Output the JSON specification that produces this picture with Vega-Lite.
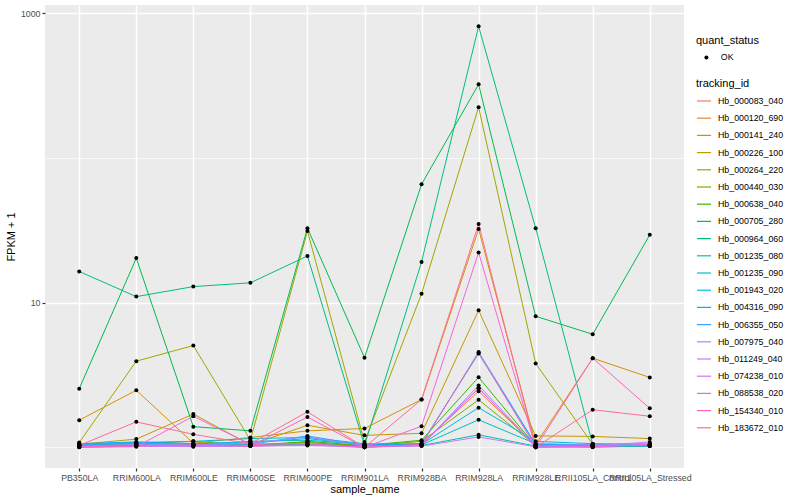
{
  "$schema": "https://vega.github.io/schema/vega-lite/v6.json",
  "width": 639,
  "height": 463,
  "autosize": {"type": "none"},
  "padding": {"left": 45, "top": 5, "right": 116, "bottom": 32},
  "background": "white",
  "datasets": {
    "expr": [
      {"tracking_id":"Hb_000083_040","sample_name":"PB350LA","fpkm":1.02,"quant_status":"OK"},
      {"tracking_id":"Hb_000083_040","sample_name":"RRIM600LA","fpkm":1.03,"quant_status":"OK"},
      {"tracking_id":"Hb_000083_040","sample_name":"RRIM600LE","fpkm":1.02,"quant_status":"OK"},
      {"tracking_id":"Hb_000083_040","sample_name":"RRIM600SE","fpkm":1.02,"quant_status":"OK"},
      {"tracking_id":"Hb_000083_040","sample_name":"RRIM600PE","fpkm":1.05,"quant_status":"OK"},
      {"tracking_id":"Hb_000083_040","sample_name":"RRIM901LA","fpkm":1.0,"quant_status":"OK"},
      {"tracking_id":"Hb_000083_040","sample_name":"RRIM928BA","fpkm":1.05,"quant_status":"OK"},
      {"tracking_id":"Hb_000083_040","sample_name":"RRIM928LA","fpkm":2.56,"quant_status":"OK"},
      {"tracking_id":"Hb_000083_040","sample_name":"RRIM928LE","fpkm":1.02,"quant_status":"OK"},
      {"tracking_id":"Hb_000083_040","sample_name":"RRII105LA_Control","fpkm":1.0,"quant_status":"OK"},
      {"tracking_id":"Hb_000083_040","sample_name":"RRII105LA_Stressed","fpkm":1.02,"quant_status":"OK"},

      {"tracking_id":"Hb_000120_690","sample_name":"PB350LA","fpkm":1.03,"quant_status":"OK"},
      {"tracking_id":"Hb_000120_690","sample_name":"RRIM600LA","fpkm":1.04,"quant_status":"OK"},
      {"tracking_id":"Hb_000120_690","sample_name":"RRIM600LE","fpkm":1.03,"quant_status":"OK"},
      {"tracking_id":"Hb_000120_690","sample_name":"RRIM600SE","fpkm":1.05,"quant_status":"OK"},
      {"tracking_id":"Hb_000120_690","sample_name":"RRIM600PE","fpkm":1.08,"quant_status":"OK"},
      {"tracking_id":"Hb_000120_690","sample_name":"RRIM901LA","fpkm":1.02,"quant_status":"OK"},
      {"tracking_id":"Hb_000120_690","sample_name":"RRIM928BA","fpkm":1.06,"quant_status":"OK"},
      {"tracking_id":"Hb_000120_690","sample_name":"RRIM928LA","fpkm":2.44,"quant_status":"OK"},
      {"tracking_id":"Hb_000120_690","sample_name":"RRIM928LE","fpkm":1.03,"quant_status":"OK"},
      {"tracking_id":"Hb_000120_690","sample_name":"RRII105LA_Control","fpkm":1.02,"quant_status":"OK"},
      {"tracking_id":"Hb_000120_690","sample_name":"RRII105LA_Stressed","fpkm":1.03,"quant_status":"OK"},

      {"tracking_id":"Hb_000141_240","sample_name":"PB350LA","fpkm":1.54,"quant_status":"OK"},
      {"tracking_id":"Hb_000141_240","sample_name":"RRIM600LA","fpkm":2.48,"quant_status":"OK"},
      {"tracking_id":"Hb_000141_240","sample_name":"RRIM600LE","fpkm":1.07,"quant_status":"OK"},
      {"tracking_id":"Hb_000141_240","sample_name":"RRIM600SE","fpkm":1.17,"quant_status":"OK"},
      {"tracking_id":"Hb_000141_240","sample_name":"RRIM600PE","fpkm":1.30,"quant_status":"OK"},
      {"tracking_id":"Hb_000141_240","sample_name":"RRIM901LA","fpkm":1.35,"quant_status":"OK"},
      {"tracking_id":"Hb_000141_240","sample_name":"RRIM928BA","fpkm":2.14,"quant_status":"OK"},
      {"tracking_id":"Hb_000141_240","sample_name":"RRIM928LA","fpkm":32.2,"quant_status":"OK"},
      {"tracking_id":"Hb_000141_240","sample_name":"RRIM928LE","fpkm":1.05,"quant_status":"OK"},
      {"tracking_id":"Hb_000141_240","sample_name":"RRII105LA_Control","fpkm":4.13,"quant_status":"OK"},
      {"tracking_id":"Hb_000141_240","sample_name":"RRII105LA_Stressed","fpkm":3.04,"quant_status":"OK"},

      {"tracking_id":"Hb_000226_100","sample_name":"PB350LA","fpkm":1.05,"quant_status":"OK"},
      {"tracking_id":"Hb_000226_100","sample_name":"RRIM600LA","fpkm":1.14,"quant_status":"OK"},
      {"tracking_id":"Hb_000226_100","sample_name":"RRIM600LE","fpkm":1.70,"quant_status":"OK"},
      {"tracking_id":"Hb_000226_100","sample_name":"RRIM600SE","fpkm":1.04,"quant_status":"OK"},
      {"tracking_id":"Hb_000226_100","sample_name":"RRIM600PE","fpkm":1.42,"quant_status":"OK"},
      {"tracking_id":"Hb_000226_100","sample_name":"RRIM901LA","fpkm":1.21,"quant_status":"OK"},
      {"tracking_id":"Hb_000226_100","sample_name":"RRIM928BA","fpkm":1.25,"quant_status":"OK"},
      {"tracking_id":"Hb_000226_100","sample_name":"RRIM928LA","fpkm":8.85,"quant_status":"OK"},
      {"tracking_id":"Hb_000226_100","sample_name":"RRIM928LE","fpkm":1.20,"quant_status":"OK"},
      {"tracking_id":"Hb_000226_100","sample_name":"RRII105LA_Control","fpkm":1.19,"quant_status":"OK"},
      {"tracking_id":"Hb_000226_100","sample_name":"RRII105LA_Stressed","fpkm":1.15,"quant_status":"OK"},

      {"tracking_id":"Hb_000264_220","sample_name":"PB350LA","fpkm":1.08,"quant_status":"OK"},
      {"tracking_id":"Hb_000264_220","sample_name":"RRIM600LA","fpkm":3.94,"quant_status":"OK"},
      {"tracking_id":"Hb_000264_220","sample_name":"RRIM600LE","fpkm":5.05,"quant_status":"OK"},
      {"tracking_id":"Hb_000264_220","sample_name":"RRIM600SE","fpkm":1.12,"quant_status":"OK"},
      {"tracking_id":"Hb_000264_220","sample_name":"RRIM600PE","fpkm":31.2,"quant_status":"OK"},
      {"tracking_id":"Hb_000264_220","sample_name":"RRIM901LA","fpkm":1.09,"quant_status":"OK"},
      {"tracking_id":"Hb_000264_220","sample_name":"RRIM928BA","fpkm":11.5,"quant_status":"OK"},
      {"tracking_id":"Hb_000264_220","sample_name":"RRIM928LA","fpkm":224,"quant_status":"OK"},
      {"tracking_id":"Hb_000264_220","sample_name":"RRIM928LE","fpkm":3.80,"quant_status":"OK"},
      {"tracking_id":"Hb_000264_220","sample_name":"RRII105LA_Control","fpkm":1.05,"quant_status":"OK"},
      {"tracking_id":"Hb_000264_220","sample_name":"RRII105LA_Stressed","fpkm":1.03,"quant_status":"OK"},

      {"tracking_id":"Hb_000440_030","sample_name":"PB350LA","fpkm":1.04,"quant_status":"OK"},
      {"tracking_id":"Hb_000440_030","sample_name":"RRIM600LA","fpkm":1.06,"quant_status":"OK"},
      {"tracking_id":"Hb_000440_030","sample_name":"RRIM600LE","fpkm":1.10,"quant_status":"OK"},
      {"tracking_id":"Hb_000440_030","sample_name":"RRIM600SE","fpkm":1.03,"quant_status":"OK"},
      {"tracking_id":"Hb_000440_030","sample_name":"RRIM600PE","fpkm":1.08,"quant_status":"OK"},
      {"tracking_id":"Hb_000440_030","sample_name":"RRIM901LA","fpkm":1.02,"quant_status":"OK"},
      {"tracking_id":"Hb_000440_030","sample_name":"RRIM928BA","fpkm":1.10,"quant_status":"OK"},
      {"tracking_id":"Hb_000440_030","sample_name":"RRIM928LA","fpkm":2.13,"quant_status":"OK"},
      {"tracking_id":"Hb_000440_030","sample_name":"RRIM928LE","fpkm":1.03,"quant_status":"OK"},
      {"tracking_id":"Hb_000440_030","sample_name":"RRII105LA_Control","fpkm":1.02,"quant_status":"OK"},
      {"tracking_id":"Hb_000440_030","sample_name":"RRII105LA_Stressed","fpkm":1.04,"quant_status":"OK"},

      {"tracking_id":"Hb_000638_040","sample_name":"PB350LA","fpkm":1.03,"quant_status":"OK"},
      {"tracking_id":"Hb_000638_040","sample_name":"RRIM600LA","fpkm":1.05,"quant_status":"OK"},
      {"tracking_id":"Hb_000638_040","sample_name":"RRIM600LE","fpkm":1.04,"quant_status":"OK"},
      {"tracking_id":"Hb_000638_040","sample_name":"RRIM600SE","fpkm":1.02,"quant_status":"OK"},
      {"tracking_id":"Hb_000638_040","sample_name":"RRIM600PE","fpkm":1.10,"quant_status":"OK"},
      {"tracking_id":"Hb_000638_040","sample_name":"RRIM901LA","fpkm":1.03,"quant_status":"OK"},
      {"tracking_id":"Hb_000638_040","sample_name":"RRIM928BA","fpkm":1.12,"quant_status":"OK"},
      {"tracking_id":"Hb_000638_040","sample_name":"RRIM928LA","fpkm":3.05,"quant_status":"OK"},
      {"tracking_id":"Hb_000638_040","sample_name":"RRIM928LE","fpkm":1.02,"quant_status":"OK"},
      {"tracking_id":"Hb_000638_040","sample_name":"RRII105LA_Control","fpkm":1.02,"quant_status":"OK"},
      {"tracking_id":"Hb_000638_040","sample_name":"RRII105LA_Stressed","fpkm":1.03,"quant_status":"OK"},

      {"tracking_id":"Hb_000705_280","sample_name":"PB350LA","fpkm":2.54,"quant_status":"OK"},
      {"tracking_id":"Hb_000705_280","sample_name":"RRIM600LA","fpkm":20.3,"quant_status":"OK"},
      {"tracking_id":"Hb_000705_280","sample_name":"RRIM600LE","fpkm":1.39,"quant_status":"OK"},
      {"tracking_id":"Hb_000705_280","sample_name":"RRIM600SE","fpkm":1.30,"quant_status":"OK"},
      {"tracking_id":"Hb_000705_280","sample_name":"RRIM600PE","fpkm":32.7,"quant_status":"OK"},
      {"tracking_id":"Hb_000705_280","sample_name":"RRIM901LA","fpkm":4.16,"quant_status":"OK"},
      {"tracking_id":"Hb_000705_280","sample_name":"RRIM928BA","fpkm":65.7,"quant_status":"OK"},
      {"tracking_id":"Hb_000705_280","sample_name":"RRIM928LA","fpkm":322,"quant_status":"OK"},
      {"tracking_id":"Hb_000705_280","sample_name":"RRIM928LE","fpkm":8.05,"quant_status":"OK"},
      {"tracking_id":"Hb_000705_280","sample_name":"RRII105LA_Control","fpkm":6.04,"quant_status":"OK"},
      {"tracking_id":"Hb_000705_280","sample_name":"RRII105LA_Stressed","fpkm":29.4,"quant_status":"OK"},

      {"tracking_id":"Hb_000964_060","sample_name":"PB350LA","fpkm":16.4,"quant_status":"OK"},
      {"tracking_id":"Hb_000964_060","sample_name":"RRIM600LA","fpkm":11.0,"quant_status":"OK"},
      {"tracking_id":"Hb_000964_060","sample_name":"RRIM600LE","fpkm":12.9,"quant_status":"OK"},
      {"tracking_id":"Hb_000964_060","sample_name":"RRIM600SE","fpkm":13.7,"quant_status":"OK"},
      {"tracking_id":"Hb_000964_060","sample_name":"RRIM600PE","fpkm":21.0,"quant_status":"OK"},
      {"tracking_id":"Hb_000964_060","sample_name":"RRIM901LA","fpkm":1.03,"quant_status":"OK"},
      {"tracking_id":"Hb_000964_060","sample_name":"RRIM928BA","fpkm":19.1,"quant_status":"OK"},
      {"tracking_id":"Hb_000964_060","sample_name":"RRIM928LA","fpkm":810,"quant_status":"OK"},
      {"tracking_id":"Hb_000964_060","sample_name":"RRIM928LE","fpkm":32.7,"quant_status":"OK"},
      {"tracking_id":"Hb_000964_060","sample_name":"RRII105LA_Control","fpkm":1.05,"quant_status":"OK"},
      {"tracking_id":"Hb_000964_060","sample_name":"RRII105LA_Stressed","fpkm":1.03,"quant_status":"OK"},

      {"tracking_id":"Hb_001235_080","sample_name":"PB350LA","fpkm":1.02,"quant_status":"OK"},
      {"tracking_id":"Hb_001235_080","sample_name":"RRIM600LA","fpkm":1.03,"quant_status":"OK"},
      {"tracking_id":"Hb_001235_080","sample_name":"RRIM600LE","fpkm":1.02,"quant_status":"OK"},
      {"tracking_id":"Hb_001235_080","sample_name":"RRIM600SE","fpkm":1.03,"quant_status":"OK"},
      {"tracking_id":"Hb_001235_080","sample_name":"RRIM600PE","fpkm":1.05,"quant_status":"OK"},
      {"tracking_id":"Hb_001235_080","sample_name":"RRIM901LA","fpkm":1.02,"quant_status":"OK"},
      {"tracking_id":"Hb_001235_080","sample_name":"RRIM928BA","fpkm":1.03,"quant_status":"OK"},
      {"tracking_id":"Hb_001235_080","sample_name":"RRIM928LA","fpkm":1.22,"quant_status":"OK"},
      {"tracking_id":"Hb_001235_080","sample_name":"RRIM928LE","fpkm":1.02,"quant_status":"OK"},
      {"tracking_id":"Hb_001235_080","sample_name":"RRII105LA_Control","fpkm":1.01,"quant_status":"OK"},
      {"tracking_id":"Hb_001235_080","sample_name":"RRII105LA_Stressed","fpkm":1.02,"quant_status":"OK"},

      {"tracking_id":"Hb_001235_090","sample_name":"PB350LA","fpkm":1.03,"quant_status":"OK"},
      {"tracking_id":"Hb_001235_090","sample_name":"RRIM600LA","fpkm":1.06,"quant_status":"OK"},
      {"tracking_id":"Hb_001235_090","sample_name":"RRIM600LE","fpkm":1.05,"quant_status":"OK"},
      {"tracking_id":"Hb_001235_090","sample_name":"RRIM600SE","fpkm":1.10,"quant_status":"OK"},
      {"tracking_id":"Hb_001235_090","sample_name":"RRIM600PE","fpkm":1.12,"quant_status":"OK"},
      {"tracking_id":"Hb_001235_090","sample_name":"RRIM901LA","fpkm":1.05,"quant_status":"OK"},
      {"tracking_id":"Hb_001235_090","sample_name":"RRIM928BA","fpkm":1.04,"quant_status":"OK"},
      {"tracking_id":"Hb_001235_090","sample_name":"RRIM928LA","fpkm":1.55,"quant_status":"OK"},
      {"tracking_id":"Hb_001235_090","sample_name":"RRIM928LE","fpkm":1.06,"quant_status":"OK"},
      {"tracking_id":"Hb_001235_090","sample_name":"RRII105LA_Control","fpkm":1.04,"quant_status":"OK"},
      {"tracking_id":"Hb_001235_090","sample_name":"RRII105LA_Stressed","fpkm":1.03,"quant_status":"OK"},

      {"tracking_id":"Hb_001943_020","sample_name":"PB350LA","fpkm":1.05,"quant_status":"OK"},
      {"tracking_id":"Hb_001943_020","sample_name":"RRIM600LA","fpkm":1.08,"quant_status":"OK"},
      {"tracking_id":"Hb_001943_020","sample_name":"RRIM600LE","fpkm":1.10,"quant_status":"OK"},
      {"tracking_id":"Hb_001943_020","sample_name":"RRIM600SE","fpkm":1.15,"quant_status":"OK"},
      {"tracking_id":"Hb_001943_020","sample_name":"RRIM600PE","fpkm":1.17,"quant_status":"OK"},
      {"tracking_id":"Hb_001943_020","sample_name":"RRIM901LA","fpkm":1.06,"quant_status":"OK"},
      {"tracking_id":"Hb_001943_020","sample_name":"RRIM928BA","fpkm":1.05,"quant_status":"OK"},
      {"tracking_id":"Hb_001943_020","sample_name":"RRIM928LA","fpkm":1.88,"quant_status":"OK"},
      {"tracking_id":"Hb_001943_020","sample_name":"RRIM928LE","fpkm":1.10,"quant_status":"OK"},
      {"tracking_id":"Hb_001943_020","sample_name":"RRII105LA_Control","fpkm":1.06,"quant_status":"OK"},
      {"tracking_id":"Hb_001943_020","sample_name":"RRII105LA_Stressed","fpkm":1.05,"quant_status":"OK"},

      {"tracking_id":"Hb_004316_090","sample_name":"PB350LA","fpkm":1.06,"quant_status":"OK"},
      {"tracking_id":"Hb_004316_090","sample_name":"RRIM600LA","fpkm":1.09,"quant_status":"OK"},
      {"tracking_id":"Hb_004316_090","sample_name":"RRIM600LE","fpkm":1.06,"quant_status":"OK"},
      {"tracking_id":"Hb_004316_090","sample_name":"RRIM600SE","fpkm":1.08,"quant_status":"OK"},
      {"tracking_id":"Hb_004316_090","sample_name":"RRIM600PE","fpkm":1.15,"quant_status":"OK"},
      {"tracking_id":"Hb_004316_090","sample_name":"RRIM901LA","fpkm":1.04,"quant_status":"OK"},
      {"tracking_id":"Hb_004316_090","sample_name":"RRIM928BA","fpkm":1.06,"quant_status":"OK"},
      {"tracking_id":"Hb_004316_090","sample_name":"RRIM928LA","fpkm":4.45,"quant_status":"OK"},
      {"tracking_id":"Hb_004316_090","sample_name":"RRIM928LE","fpkm":1.04,"quant_status":"OK"},
      {"tracking_id":"Hb_004316_090","sample_name":"RRII105LA_Control","fpkm":1.03,"quant_status":"OK"},
      {"tracking_id":"Hb_004316_090","sample_name":"RRII105LA_Stressed","fpkm":1.02,"quant_status":"OK"},

      {"tracking_id":"Hb_006355_050","sample_name":"PB350LA","fpkm":1.04,"quant_status":"OK"},
      {"tracking_id":"Hb_006355_050","sample_name":"RRIM600LA","fpkm":1.07,"quant_status":"OK"},
      {"tracking_id":"Hb_006355_050","sample_name":"RRIM600LE","fpkm":1.05,"quant_status":"OK"},
      {"tracking_id":"Hb_006355_050","sample_name":"RRIM600SE","fpkm":1.05,"quant_status":"OK"},
      {"tracking_id":"Hb_006355_050","sample_name":"RRIM600PE","fpkm":1.20,"quant_status":"OK"},
      {"tracking_id":"Hb_006355_050","sample_name":"RRIM901LA","fpkm":1.03,"quant_status":"OK"},
      {"tracking_id":"Hb_006355_050","sample_name":"RRIM928BA","fpkm":1.04,"quant_status":"OK"},
      {"tracking_id":"Hb_006355_050","sample_name":"RRIM928LA","fpkm":4.55,"quant_status":"OK"},
      {"tracking_id":"Hb_006355_050","sample_name":"RRIM928LE","fpkm":1.05,"quant_status":"OK"},
      {"tracking_id":"Hb_006355_050","sample_name":"RRII105LA_Control","fpkm":1.04,"quant_status":"OK"},
      {"tracking_id":"Hb_006355_050","sample_name":"RRII105LA_Stressed","fpkm":1.03,"quant_status":"OK"},

      {"tracking_id":"Hb_007975_040","sample_name":"PB350LA","fpkm":1.02,"quant_status":"OK"},
      {"tracking_id":"Hb_007975_040","sample_name":"RRIM600LA","fpkm":1.05,"quant_status":"OK"},
      {"tracking_id":"Hb_007975_040","sample_name":"RRIM600LE","fpkm":1.04,"quant_status":"OK"},
      {"tracking_id":"Hb_007975_040","sample_name":"RRIM600SE","fpkm":1.07,"quant_status":"OK"},
      {"tracking_id":"Hb_007975_040","sample_name":"RRIM600PE","fpkm":1.18,"quant_status":"OK"},
      {"tracking_id":"Hb_007975_040","sample_name":"RRIM901LA","fpkm":1.02,"quant_status":"OK"},
      {"tracking_id":"Hb_007975_040","sample_name":"RRIM928BA","fpkm":1.03,"quant_status":"OK"},
      {"tracking_id":"Hb_007975_040","sample_name":"RRIM928LA","fpkm":2.68,"quant_status":"OK"},
      {"tracking_id":"Hb_007975_040","sample_name":"RRIM928LE","fpkm":1.02,"quant_status":"OK"},
      {"tracking_id":"Hb_007975_040","sample_name":"RRII105LA_Control","fpkm":1.05,"quant_status":"OK"},
      {"tracking_id":"Hb_007975_040","sample_name":"RRII105LA_Stressed","fpkm":1.06,"quant_status":"OK"},

      {"tracking_id":"Hb_011249_040","sample_name":"PB350LA","fpkm":1.01,"quant_status":"OK"},
      {"tracking_id":"Hb_011249_040","sample_name":"RRIM600LA","fpkm":1.02,"quant_status":"OK"},
      {"tracking_id":"Hb_011249_040","sample_name":"RRIM600LE","fpkm":1.01,"quant_status":"OK"},
      {"tracking_id":"Hb_011249_040","sample_name":"RRIM600SE","fpkm":1.02,"quant_status":"OK"},
      {"tracking_id":"Hb_011249_040","sample_name":"RRIM600PE","fpkm":1.03,"quant_status":"OK"},
      {"tracking_id":"Hb_011249_040","sample_name":"RRIM901LA","fpkm":1.01,"quant_status":"OK"},
      {"tracking_id":"Hb_011249_040","sample_name":"RRIM928BA","fpkm":1.02,"quant_status":"OK"},
      {"tracking_id":"Hb_011249_040","sample_name":"RRIM928LA","fpkm":1.18,"quant_status":"OK"},
      {"tracking_id":"Hb_011249_040","sample_name":"RRIM928LE","fpkm":1.01,"quant_status":"OK"},
      {"tracking_id":"Hb_011249_040","sample_name":"RRII105LA_Control","fpkm":1.02,"quant_status":"OK"},
      {"tracking_id":"Hb_011249_040","sample_name":"RRII105LA_Stressed","fpkm":1.09,"quant_status":"OK"},

      {"tracking_id":"Hb_074238_010","sample_name":"PB350LA","fpkm":1.01,"quant_status":"OK"},
      {"tracking_id":"Hb_074238_010","sample_name":"RRIM600LA","fpkm":1.02,"quant_status":"OK"},
      {"tracking_id":"Hb_074238_010","sample_name":"RRIM600LE","fpkm":1.03,"quant_status":"OK"},
      {"tracking_id":"Hb_074238_010","sample_name":"RRIM600SE","fpkm":1.02,"quant_status":"OK"},
      {"tracking_id":"Hb_074238_010","sample_name":"RRIM600PE","fpkm":1.04,"quant_status":"OK"},
      {"tracking_id":"Hb_074238_010","sample_name":"RRIM901LA","fpkm":1.0,"quant_status":"OK"},
      {"tracking_id":"Hb_074238_010","sample_name":"RRIM928BA","fpkm":1.03,"quant_status":"OK"},
      {"tracking_id":"Hb_074238_010","sample_name":"RRIM928LA","fpkm":2.56,"quant_status":"OK"},
      {"tracking_id":"Hb_074238_010","sample_name":"RRIM928LE","fpkm":1.0,"quant_status":"OK"},
      {"tracking_id":"Hb_074238_010","sample_name":"RRII105LA_Control","fpkm":1.01,"quant_status":"OK"},
      {"tracking_id":"Hb_074238_010","sample_name":"RRII105LA_Stressed","fpkm":1.04,"quant_status":"OK"},

      {"tracking_id":"Hb_088538_020","sample_name":"PB350LA","fpkm":1.0,"quant_status":"OK"},
      {"tracking_id":"Hb_088538_020","sample_name":"RRIM600LA","fpkm":1.01,"quant_status":"OK"},
      {"tracking_id":"Hb_088538_020","sample_name":"RRIM600LE","fpkm":1.64,"quant_status":"OK"},
      {"tracking_id":"Hb_088538_020","sample_name":"RRIM600SE","fpkm":1.05,"quant_status":"OK"},
      {"tracking_id":"Hb_088538_020","sample_name":"RRIM600PE","fpkm":1.06,"quant_status":"OK"},
      {"tracking_id":"Hb_088538_020","sample_name":"RRIM901LA","fpkm":1.0,"quant_status":"OK"},
      {"tracking_id":"Hb_088538_020","sample_name":"RRIM928BA","fpkm":1.40,"quant_status":"OK"},
      {"tracking_id":"Hb_088538_020","sample_name":"RRIM928LA","fpkm":22.2,"quant_status":"OK"},
      {"tracking_id":"Hb_088538_020","sample_name":"RRIM928LE","fpkm":1.0,"quant_status":"OK"},
      {"tracking_id":"Hb_088538_020","sample_name":"RRII105LA_Control","fpkm":1.01,"quant_status":"OK"},
      {"tracking_id":"Hb_088538_020","sample_name":"RRII105LA_Stressed","fpkm":1.05,"quant_status":"OK"},

      {"tracking_id":"Hb_154340_010","sample_name":"PB350LA","fpkm":1.0,"quant_status":"OK"},
      {"tracking_id":"Hb_154340_010","sample_name":"RRIM600LA","fpkm":1.02,"quant_status":"OK"},
      {"tracking_id":"Hb_154340_010","sample_name":"RRIM600LE","fpkm":1.04,"quant_status":"OK"},
      {"tracking_id":"Hb_154340_010","sample_name":"RRIM600SE","fpkm":1.02,"quant_status":"OK"},
      {"tracking_id":"Hb_154340_010","sample_name":"RRIM600PE","fpkm":1.62,"quant_status":"OK"},
      {"tracking_id":"Hb_154340_010","sample_name":"RRIM901LA","fpkm":1.0,"quant_status":"OK"},
      {"tracking_id":"Hb_154340_010","sample_name":"RRIM928BA","fpkm":1.05,"quant_status":"OK"},
      {"tracking_id":"Hb_154340_010","sample_name":"RRIM928LA","fpkm":4.5,"quant_status":"OK"},
      {"tracking_id":"Hb_154340_010","sample_name":"RRIM928LE","fpkm":1.0,"quant_status":"OK"},
      {"tracking_id":"Hb_154340_010","sample_name":"RRII105LA_Control","fpkm":4.13,"quant_status":"OK"},
      {"tracking_id":"Hb_154340_010","sample_name":"RRII105LA_Stressed","fpkm":1.86,"quant_status":"OK"},

      {"tracking_id":"Hb_183672_010","sample_name":"PB350LA","fpkm":1.03,"quant_status":"OK"},
      {"tracking_id":"Hb_183672_010","sample_name":"RRIM600LA","fpkm":1.50,"quant_status":"OK"},
      {"tracking_id":"Hb_183672_010","sample_name":"RRIM600LE","fpkm":1.23,"quant_status":"OK"},
      {"tracking_id":"Hb_183672_010","sample_name":"RRIM600SE","fpkm":1.06,"quant_status":"OK"},
      {"tracking_id":"Hb_183672_010","sample_name":"RRIM600PE","fpkm":1.76,"quant_status":"OK"},
      {"tracking_id":"Hb_183672_010","sample_name":"RRIM901LA","fpkm":1.0,"quant_status":"OK"},
      {"tracking_id":"Hb_183672_010","sample_name":"RRIM928BA","fpkm":2.14,"quant_status":"OK"},
      {"tracking_id":"Hb_183672_010","sample_name":"RRIM928LA","fpkm":34.9,"quant_status":"OK"},
      {"tracking_id":"Hb_183672_010","sample_name":"RRIM928LE","fpkm":1.0,"quant_status":"OK"},
      {"tracking_id":"Hb_183672_010","sample_name":"RRII105LA_Control","fpkm":1.82,"quant_status":"OK"},
      {"tracking_id":"Hb_183672_010","sample_name":"RRII105LA_Stressed","fpkm":1.64,"quant_status":"OK"}
    ]
  },
  "data": {"name": "expr"},
  "encoding": {
    "x": {
      "field": "sample_name",
      "type": "nominal",
      "title": "sample_name",
      "scale": {
        "type": "point",
        "padding": 0.6,
        "domain": ["PB350LA","RRIM600LA","RRIM600LE","RRIM600SE","RRIM600PE","RRIM901LA","RRIM928BA","RRIM928LA","RRIM928LE","RRII105LA_Control","RRII105LA_Stressed"]
      },
      "axis": {
        "labelAngle": 0,
        "labelOverlap": false,
        "labelBound": false,
        "labelLimit": 0,
        "gridWidth": 1.4,
        "titlePadding": 2
      }
    },
    "y": {
      "field": "fpkm",
      "type": "quantitative",
      "title": "FPKM + 1",
      "scale": {"type": "log", "domain": [0.72, 1138], "nice": false, "zero": false},
      "axis": {
        "values": [1, 10, 100, 1000],
        "labelExpr": "(datum.value == 10 || datum.value == 1000) ? format(datum.value, 'd') : ''",
        "tickOpacity": {"condition": {"test": "datum.value == 10 || datum.value == 1000", "value": 1}, "value": 0},
        "gridWidth": {"condition": {"test": "datum.value == 10 || datum.value == 1000", "value": 1.4}, "value": 0.7},
        "titlePadding": 4
      }
    }
  },
  "layer": [
    {
      "mark": {"type": "line", "strokeWidth": 1},
      "encoding": {
        "stroke": {
          "field": "tracking_id",
          "type": "nominal",
          "title": "tracking_id",
          "scale": {
            "domain": ["Hb_000083_040","Hb_000120_690","Hb_000141_240","Hb_000226_100","Hb_000264_220","Hb_000440_030","Hb_000638_040","Hb_000705_280","Hb_000964_060","Hb_001235_080","Hb_001235_090","Hb_001943_020","Hb_004316_090","Hb_006355_050","Hb_007975_040","Hb_011249_040","Hb_074238_010","Hb_088538_020","Hb_154340_010","Hb_183672_010"],
            "range": ["#F8766D","#EA8331","#D89000","#C09B00","#A3A500","#7CAE00","#39B600","#00BB4E","#00BF7D","#00C1A3","#00BFC4","#00BAE0","#00B0F6","#35A2FF","#9590FF","#C77CFF","#E76BF3","#FA62DB","#FF62BC","#FF6C91"]
          },
          "legend": {
            "orient": "none",
            "legendX": 651,
            "legendY": 73,
            "symbolType": "stroke",
            "symbolSize": 196,
            "symbolStrokeWidth": 1.2,
            "rowPadding": 4.2,
            "titlePadding": 4
          }
        }
      }
    },
    {
      "mark": {"type": "point", "filled": true, "shape": "circle", "size": 16, "opacity": 1},
      "encoding": {
        "fill": {
          "field": "quant_status",
          "type": "nominal",
          "title": "quant_status",
          "scale": {"domain": ["OK"], "range": ["black"]},
          "legend": {
            "orient": "none",
            "legendX": 651,
            "legendY": 30,
            "symbolType": "circle",
            "symbolSize": 16,
            "symbolOffset": 6,
            "labelOffset": 10,
            "titlePadding": 7
          }
        }
      }
    }
  ],
  "config": {
    "view": {"fill": "#EBEBEB", "stroke": null},
    "axis": {
      "domain": false,
      "grid": true,
      "gridColor": "#FFFFFF",
      "tickColor": "#333333",
      "tickSize": 3,
      "tickWidth": 1.2,
      "labelColor": "#4D4D4D",
      "labelFont": "Liberation Sans",
      "labelFontSize": 8.8,
      "labelPadding": 2,
      "titleFont": "Liberation Sans",
      "titleFontSize": 11,
      "titleFontWeight": "normal",
      "titleColor": "#000000"
    },
    "legend": {
      "titleFont": "Liberation Sans",
      "titleFontSize": 11,
      "titleFontWeight": "normal",
      "titleColor": "#000000",
      "labelFont": "Liberation Sans",
      "labelFontSize": 8.8,
      "labelColor": "#000000",
      "labelOffset": 6
    }
  }
}
